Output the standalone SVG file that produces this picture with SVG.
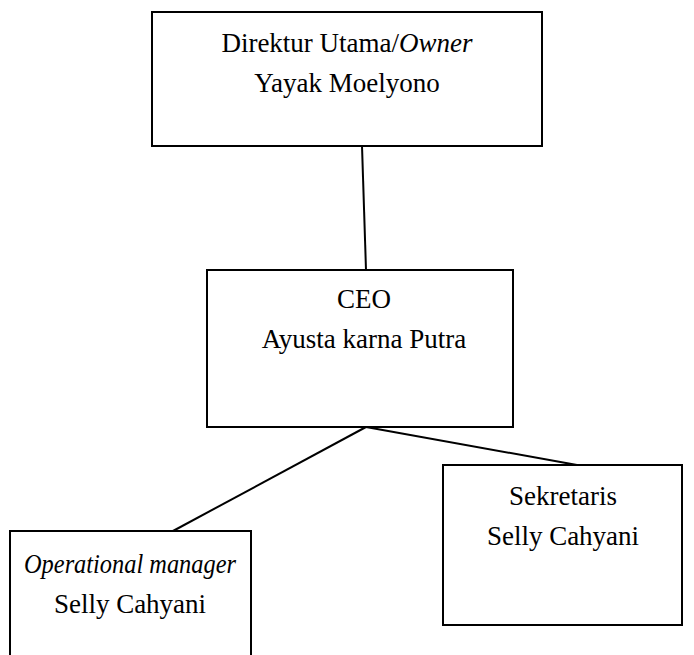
<svg xmlns="http://www.w3.org/2000/svg" width="694" height="655" viewBox="0 0 694 655">
<style>
.box{fill:#fff;stroke:#000;stroke-width:2}
.con{stroke:#000;stroke-width:2;fill:none}
.it{font-style:italic}
</style>
<rect width="694" height="655" fill="#fff"/>
<g id="connectors">
<line class="con" x1="362" y1="146" x2="366" y2="270"/>
<line class="con" x1="366" y1="427" x2="173" y2="531"/>
<line class="con" x1="366" y1="427" x2="577" y2="465"/>
</g>
<g font-family="Liberation Serif, Times New Roman, serif" font-size="27" text-anchor="middle" fill="#000">
<g id="direktur">
<rect class="box" x="152" y="12" width="390" height="134"/>
<text x="347" y="52">Direktur Utama/<tspan class="it">Owner</tspan></text>
<text x="347" y="92">Yayak Moelyono</text>
</g>
<g id="ceo">
<rect class="box" x="207" y="270" width="306" height="157"/>
<text x="364" y="308">CEO</text>
<text x="364" y="348">Ayusta karna Putra</text>
</g>
<g id="operational">
<rect class="box" x="10" y="531" width="241" height="140"/>
<text class="it" x="130" y="573" textLength="212" lengthAdjust="spacingAndGlyphs">Operational manager</text>
<text x="130" y="613">Selly Cahyani</text>
</g>
<g id="sekretaris">
<rect class="box" x="443" y="465" width="239" height="160"/>
<text x="563" y="505">Sekretaris</text>
<text x="563" y="545">Selly Cahyani</text>
</g>
</g>
</svg>
